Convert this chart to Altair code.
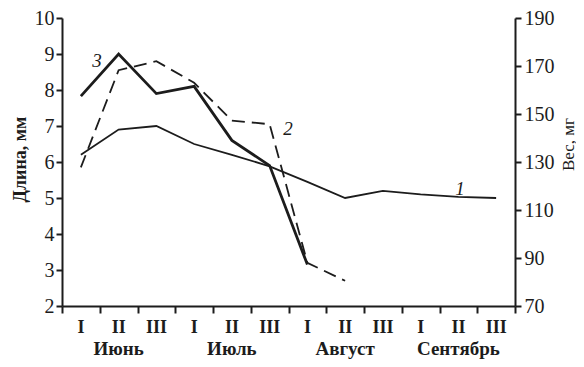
import altair as alt
import pandas as pd

# ---- data ----
decades = ["I", "II", "III"] * 4
months = ["Июнь", "Июль", "Август", "Сентябрь"]
month_pos = [1.5, 4.5, 7.5, 10.5]
length_ticks = [2, 3, 4, 5, 6, 7, 8, 9, 10]
weight_ticks = [70, 90, 110, 130, 150, 170, 190]

curve1 = [6.2, 6.9, 7.0, 6.5, 6.2, 5.88, 5.45, 5.0, 5.2, 5.1, 5.03, 5.0]
curve2 = [5.85, 8.55, 8.8, 8.2, 7.15, 7.05, 3.2, 2.7]
curve3 = [7.83, 9.0, 7.9, 8.1, 6.6, 5.9, 3.15]

curve_labels = ["3", "2", "1"]
label_x = [0.93, 5.99, 10.54]
label_y = [8.8, 6.92, 5.25]

pos = [i + 0.5 for i in range(12)]

df1 = pd.DataFrame({"pos": pos[:len(curve1)], "len": curve1})
df2 = pd.DataFrame({"pos": pos[:len(curve2)], "len": curve2})
df3 = pd.DataFrame({"pos": pos[:len(curve3)], "len": curve3})
df_dec = pd.DataFrame({"pos": pos, "dec": decades})
df_mon = pd.DataFrame({"pos": month_pos, "mon": months})
df_lab = pd.DataFrame({"pos": label_x, "len": label_y, "lab": curve_labels})
df_w = pd.DataFrame({"w": weight_ticks})

W, H = 453, 288
FONT = "Liberation Serif"
INK = "#1c1c1c"

xscale = alt.Scale(domain=[0, 12], nice=False, zero=False)
yscale = alt.Scale(domain=[2, 10], nice=False, zero=False)

xaxis = alt.Axis(values=list(range(13)), labels=False, title=None, tickSize=7,
                 tickWidth=2, domainWidth=2, domainColor=INK, tickColor=INK,
                 grid=False)
yaxis = alt.Axis(values=length_ticks, title="Длина, мм", tickSize=6, tickWidth=2,
                 domainWidth=2, domainColor=INK, tickColor=INK, grid=False,
                 labelFont=FONT, labelFontSize=20, labelColor=INK, labelPadding=2,
                 titleFont=FONT, titleFontSize=18, titleFontWeight="bold",
                 titleColor=INK, titleAngle=270, titleX=-42, titleY=141,
                 titleAlign="center", titleBaseline="middle")

X = alt.X("pos:Q", scale=xscale, axis=xaxis)
Y = alt.Y("len:Q", scale=yscale, axis=yaxis)

line1 = alt.Chart(df1).mark_line(color=INK, strokeWidth=1.8).encode(x=X, y=Y)
line2 = alt.Chart(df2).mark_line(color=INK, strokeWidth=1.8,
                                 strokeDash=[13, 7]).encode(x=X, y=Y)
line3 = alt.Chart(df3).mark_line(color=INK, strokeWidth=2.8).encode(x=X, y=Y)

nums = alt.Chart(df_dec).mark_text(font=FONT, fontSize=18, fontWeight="bold",
                                   baseline="middle", color=INK).encode(
    x=X, y=alt.value(H + 22), text="dec:N")
mons = alt.Chart(df_mon).mark_text(font=FONT, fontSize=19, fontWeight="bold",
                                   baseline="middle", color=INK).encode(
    x=X, y=alt.value(H + 43), text="mon:N")
labs = alt.Chart(df_lab).mark_text(font=FONT, fontSize=19, fontStyle="italic",
                                   baseline="middle", color=INK).encode(
    x=X, y=Y, text="lab:N")

left = alt.layer(line1, line2, line3, nums, mons, labs)

right = alt.Chart(df_w).mark_point(opacity=0).encode(
    y=alt.Y("w:Q", scale=alt.Scale(domain=[70, 190], nice=False, zero=False),
            axis=alt.Axis(orient="right", values=weight_ticks, title="Вес, мг",
                          tickSize=6, tickWidth=2, domainWidth=2, domainColor=INK,
                          tickColor=INK, grid=False, labelFont=FONT,
                          labelFontSize=20, labelColor=INK, labelPadding=3,
                          titleFont=FONT, titleFontSize=17, titleColor=INK,
                          titleFontWeight="normal", titleAngle=270, titleX=53,
                          titleY=126, titleAlign="center",
                          titleBaseline="middle"))
)

chart = alt.layer(left, right).resolve_scale(y="independent").properties(
    width=W, height=H,
    padding={"left": 54, "top": 10, "right": 61, "bottom": 53},
    autosize=alt.AutoSizeParams(type="none"),
    background="white",
).configure_view(stroke=None)

chart.save("out.html", embed_options={"renderer": "svg", "actions": False})
